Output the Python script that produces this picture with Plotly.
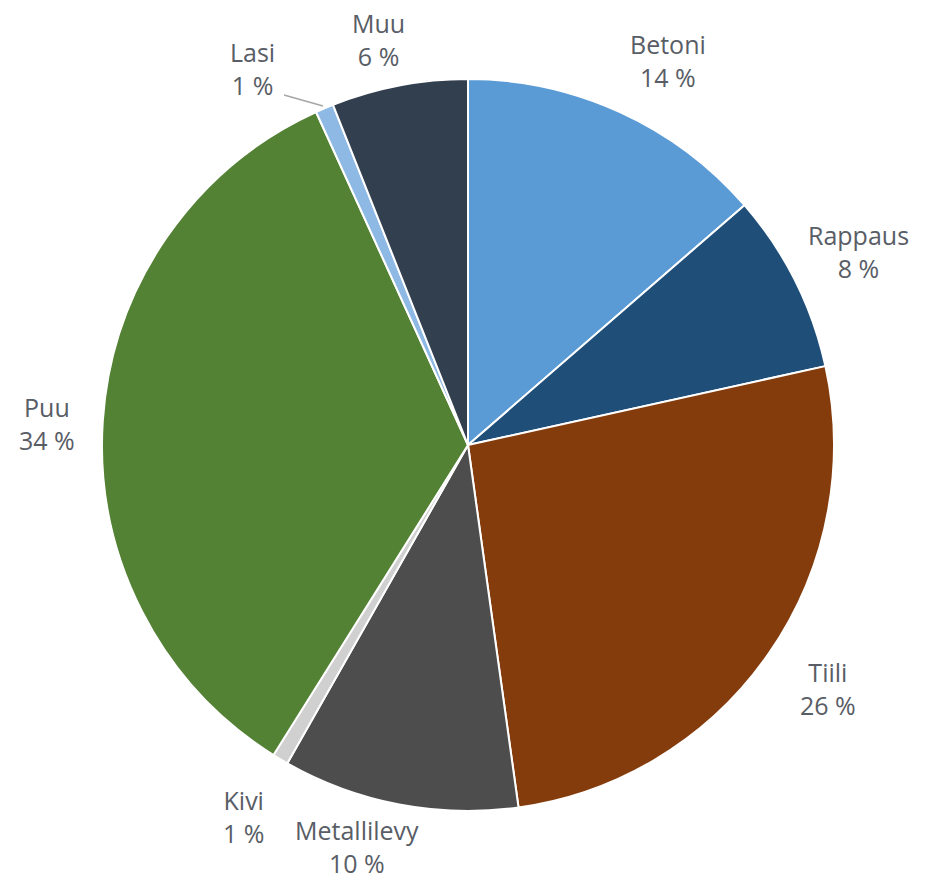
import plotly.graph_objects as go

W, H = 929, 878

labels = ["Betoni", "Rappaus", "Tiili", "Metallilevy", "Kivi", "Puu", "Lasi", "Muu"]
values = [13.6, 7.9, 26.2, 10.4, 0.7, 34.2, 0.8, 6.0]
pct_text = ["14 %", "8 %", "26 %", "10 %", "1 %", "34 %", "1 %", "6 %"]
colors = ["#5B9BD5", "#1F4E79", "#843C0C", "#4D4D4D", "#D0D0D0", "#548235", "#8DB9E4", "#323F4F"]

# label block centres (pixels)
label_px = {
    "Betoni": (668, 60),
    "Rappaus": (858, 252),
    "Tiili": (828, 688),
    "Metallilevy": (357, 846),
    "Kivi": (243, 816),
    "Puu": (47, 424),
    "Lasi": (252, 69),
    "Muu": (378, 40),
}

fig = go.Figure(go.Pie(
    labels=labels,
    values=values,
    sort=False,
    direction="clockwise",
    rotation=0,
    marker=dict(colors=colors, line=dict(color="white", width=2)),
    textinfo="none",
    hoverinfo="label+percent",
    domain=dict(x=[102 / W, 834 / W], y=[1 - 811 / H, 1 - 79 / H]),
    showlegend=False,
))

font = dict(family="Open Sans", size=25, color="#595d66")
for lab, txt in zip(labels, pct_text):
    px, py = label_px[lab]
    fig.add_annotation(
        x=px / W, y=1 - py / H, xref="paper", yref="paper",
        text=f"{lab}<br>{txt}", showarrow=False,
        xanchor="center", yanchor="middle", align="center", font=font,
    )

# leader line for Lasi
fig.add_shape(type="line", xref="paper", yref="paper",
              x0=284 / W, y0=1 - 95 / H, x1=323 / W, y1=1 - 106 / H,
              line=dict(color="#A6A6A6", width=1.5))

fig.update_layout(
    width=W, height=H,
    margin=dict(l=0, r=0, t=0, b=0),
    paper_bgcolor="white", plot_bgcolor="white",
)

fig.write_html("out.html")
